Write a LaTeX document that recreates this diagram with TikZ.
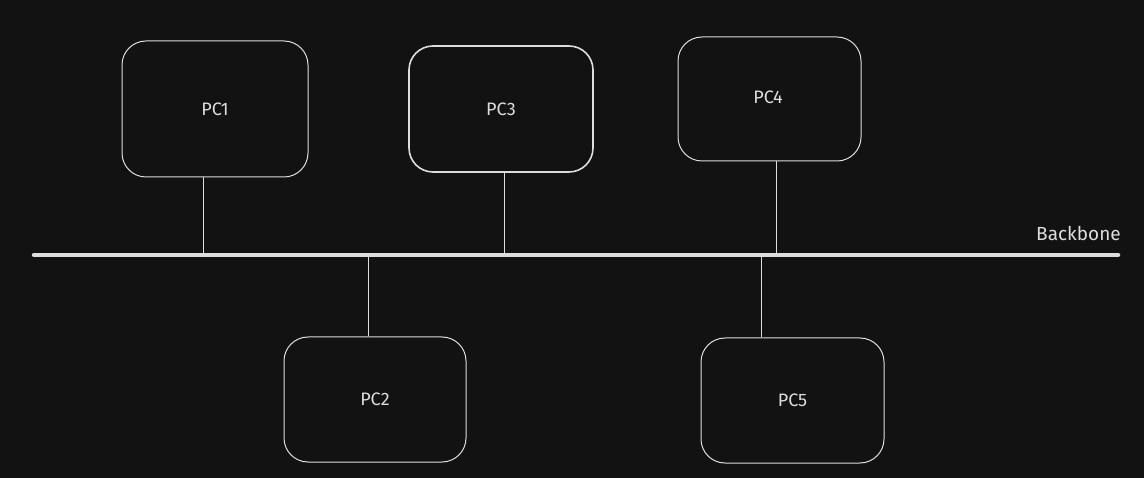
\documentclass[tikz,border=0pt]{standalone}
\usepackage{fontspec}
\setmainfont{Fira Sans}
\usepackage{tikz}
\definecolor{bg}{HTML}{121212}
\definecolor{ink}{HTML}{DDDDDD}
\tikzset{
	pcbox/.style={draw=ink,line width=1pt,rounded corners=24pt,text=ink,font=\fontsize{18}{20}\selectfont,inner sep=0pt},
	link/.style={draw=ink,line width=1pt},
}
\begin{document}
\begin{tikzpicture}[x=1pt,y=-1pt]
		\fill [bg] (0,0) rectangle (1144,478);
		\useasboundingbox (0,0) rectangle (1144,478);
		\node [pcbox,minimum width=186pt,minimum height=136pt] (pc1) at (215,109) {PC1};
		\node [pcbox,minimum width=184pt,minimum height=126pt,line width=1.6pt] (pc3) at (501,109) {PC3};
		\node [pcbox,minimum width=183pt,minimum height=124pt] (pc4) at (769.5,99) {};
		\node [text=ink,font=\fontsize{18}{20}\selectfont] (pc4text) at (768,97) {PC4};
		\node [pcbox,minimum width=182pt,minimum height=125pt] (pc2) at (375,399.5) {PC2};
		\node [pcbox,minimum width=183pt,minimum height=125pt] (pc5) at (792.5,400.5) {PC5};
		% backbone
		\coordinate (bbleft) at (34,255);
		\coordinate (bbright) at (1118,255);
		\draw [draw=ink,line width=4.5pt,line cap=round] (bbleft) -- (bbright);
		\node [text=ink,font=\fontsize{19}{21}\selectfont,anchor=south east,inner sep=0pt] (bblabel) at (1121,241) {Backbone};
		\coordinate (b1) at (203,253);
		\coordinate (b3) at (504,253);
		\coordinate (b4) at (776,253);
		\coordinate (b2) at (368,257);
		\coordinate (b5) at (761,257);
		\draw [link] (pc1.south -| b1) -- (b1);
		\draw [link] (pc3.south -| b3) -- (b3);
		\draw [link] (pc4.south -| b4) -- (b4);
		\draw [link] (pc2.north -| b2) -- (b2);
		\draw [link] (pc5.north -| b5) -- (b5);
	\end{tikzpicture}
\end{document}
